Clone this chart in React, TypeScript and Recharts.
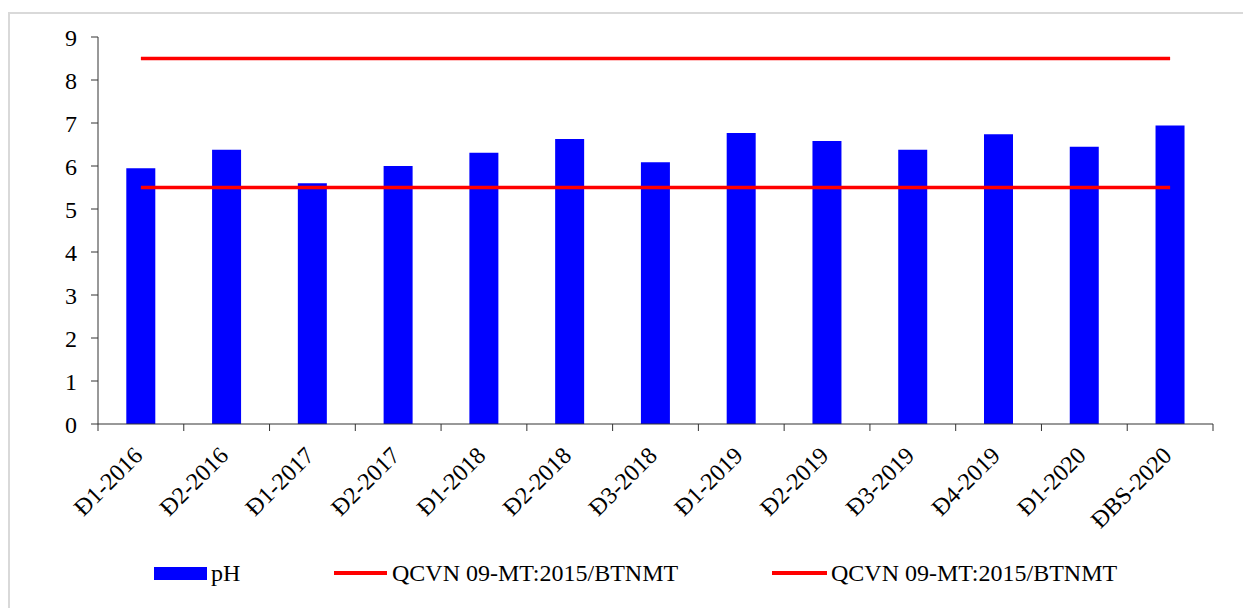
import React from 'react';
import { ComposedChart, Bar, Line, XAxis, YAxis } from 'recharts';

const categories = ['Đ1-2016', 'Đ2-2016', 'Đ1-2017', 'Đ2-2017', 'Đ1-2018', 'Đ2-2018', 'Đ3-2018', 'Đ1-2019', 'Đ2-2019', 'Đ3-2019', 'Đ4-2019', 'Đ1-2020', 'ĐBS-2020'];
const phValues = [5.95, 6.38, 5.6, 6.0, 6.31, 6.63, 6.09, 6.77, 6.58, 6.38, 6.74, 6.45, 6.94];
const qcvnMax = [8.5, 8.5, 8.5, 8.5, 8.5, 8.5, 8.5, 8.5, 8.5, 8.5, 8.5, 8.5, 8.5];
const qcvnMin = [5.5, 5.5, 5.5, 5.5, 5.5, 5.5, 5.5, 5.5, 5.5, 5.5, 5.5, 5.5, 5.5];
const yTicks = [0, 1, 2, 3, 4, 5, 6, 7, 8, 9];
const qcvnLabel = 'QCVN 09-MT:2015/BTNMT';

const data = categories.map((name, i) => ({
    name,
    ph: phValues[i],
    max: qcvnMax[i],
    min: qcvnMin[i],
}));

const FONT = "'Liberation Serif', 'Times New Roman', serif";
const CHART_W = 1231;
const CHART_H = 540;
const MARGIN = { top: 23, right: 28, left: 28, bottom: 0 };
const Y_W = 60;
const PLOT_W = CHART_W - MARGIN.left - MARGIN.right - Y_W;
const HALF_BAND = PLOT_W / categories.length / 2;
const AXIS = '#333';

const XTick = (props: any) => {
    const { x, y, payload, index } = props;
    const last = index === categories.length - 1;
    return (
        <g>
            <line x1={x - HALF_BAND} y1={y} x2={x - HALF_BAND} y2={y + 7} stroke={AXIS} />
            {last && <line x1={x + HALF_BAND} y1={y} x2={x + HALF_BAND} y2={y + 7} stroke={AXIS} />}
            <text
                x={x + 3}
                y={y + 33}
                textAnchor="end"
                transform={`rotate(-45 ${x + 3} ${y + 33})`}
                fontFamily={FONT}
                fontSize={24}
                fill="#000"
            >
                {payload.value}
            </text>
        </g>
    );
};

const LegendBox = () => (
    <div style={{ fontFamily: FONT, fontSize: 24, color: '#000' }}>
        <div style={{ position: 'absolute', left: 144, top: 553, width: 53, height: 13, background: '#0000FF' }} />
        <div style={{ position: 'absolute', left: 201, top: 559, transform: 'translateY(-50%)', lineHeight: 1, whiteSpace: 'nowrap' }}>pH</div>
        <div style={{ position: 'absolute', left: 324, top: 557, width: 53, height: 4, background: '#FF0000' }} />
        <div style={{ position: 'absolute', left: 382, top: 559, transform: 'translateY(-50%)', lineHeight: 1, whiteSpace: 'nowrap' }}>{qcvnLabel}</div>
        <div style={{ position: 'absolute', left: 762, top: 557, width: 55, height: 4, background: '#FF0000' }} />
        <div style={{ position: 'absolute', left: 821, top: 559, transform: 'translateY(-50%)', lineHeight: 1, whiteSpace: 'nowrap' }}>{qcvnLabel}</div>
    </div>
);

export default function App() {
    return (
        <>
            <style>{'html, body { overflow: hidden; }'}</style>
            <div
                style={{
                    position: 'absolute',
                    left: 8,
                    top: 12,
                    width: 1250,
                    height: 600,
                    boxSizing: 'border-box',
                    border: '2px solid #d9d9d9',
                    background: '#fff',
                }}
            >
                <ComposedChart width={CHART_W} height={CHART_H} data={data} margin={MARGIN} barCategoryGap="33%">
                    <XAxis
                        dataKey="name"
                        interval={0}
                        height={130}
                        tickLine={false}
                        tickSize={0}
                        tickMargin={0}
                        stroke={AXIS}
                        tick={<XTick />}
                    />
                    <YAxis
                        domain={[0, 9]}
                        ticks={yTicks}
                        width={Y_W}
                        tickSize={7}
                        tickMargin={14}
                        stroke={AXIS}
                        tick={{ fontFamily: FONT, fontSize: 24, fill: '#000' }}
                    />
                    <Bar dataKey="ph" name="pH" fill="#0000FF" isAnimationActive={false} />
                    <Line dataKey="max" name={qcvnLabel} stroke="#FF0000" strokeWidth={3.5} dot={false} activeDot={false} isAnimationActive={false} />
                    <Line dataKey="min" name={qcvnLabel} stroke="#FF0000" strokeWidth={3.5} dot={false} activeDot={false} isAnimationActive={false} />
                </ComposedChart>
                <LegendBox />
            </div>
        </>
    );
}
